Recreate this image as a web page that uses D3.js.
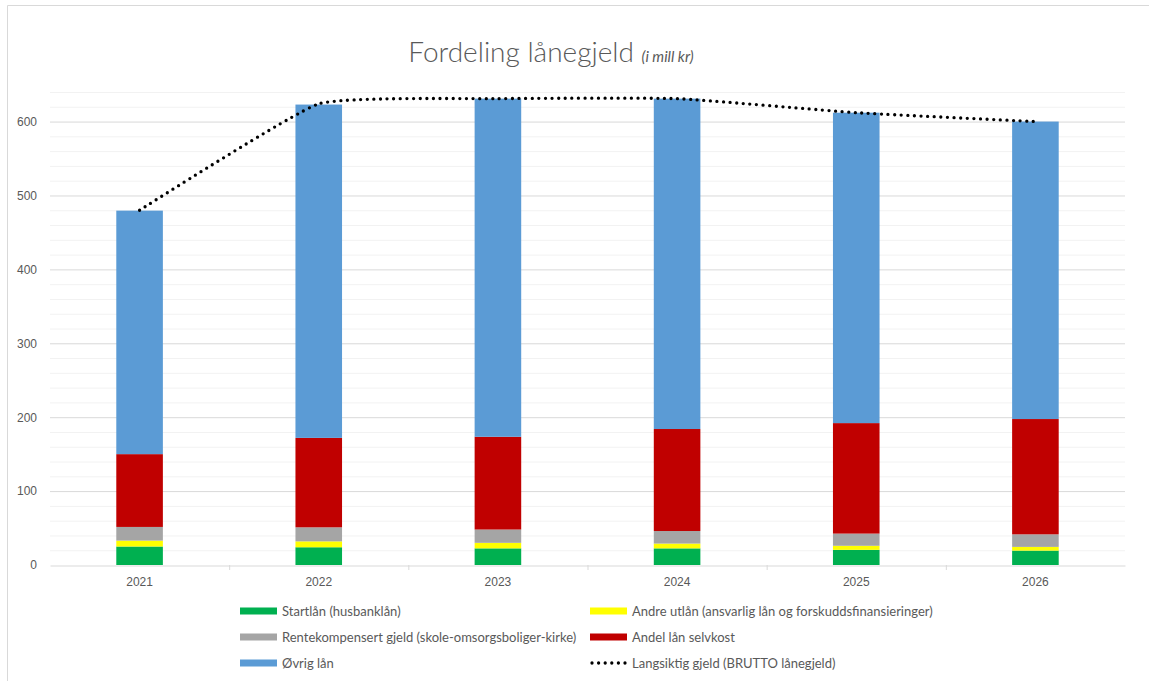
<html>
<head>
<script src="https://d3js.org/d3.v7.min.js"></script>
<style>
  body { margin: 0; background: #fff; }
  svg { font-family: Lato, "Open Sans", sans-serif; }
</style>
</head>
<body>
<svg id="chart" width="1149" height="681"></svg>
<script>
// data (mill kr)
const years = ["2021", "2022", "2023", "2024", "2025", "2026"];
const startlan = [25, 24, 22.5, 22.5, 20.5, 19.5];
const andreUtlan = [8, 8, 7.5, 6.5, 5.5, 5];
const rentekomp = [18.5, 19, 18, 17, 16.5, 17];
const selvkost = [98.5, 121, 125.5, 138, 149.5, 156];
const ovrig = [329.5, 451, 457.5, 447, 420, 402.5];
const brutto = [480, 624, 631, 631, 612, 600];
const yTicks = [0, 100, 200, 300, 400, 500, 600];

const seriesNames = ["Startlån (husbanklån)", "Andre utlån (ansvarlig lån og forskuddsfinansieringer)",
  "Rentekompensert gjeld (skole-omsorgsboliger-kirke)", "Andel lån selvkost", "Øvrig lån"];
const colors = ["#00b050", "#ffff00", "#a5a5a5", "#c00000", "#5b9bd5"];
const lineName = "Langsiktig gjeld (BRUTTO lånegjeld)";

const svg = d3.select("#chart");
const plotLeft = 50, plotRight = 1125, plotTop = 92, plotBottom = 565;

// chart border (only top and left show in the picture)
svg.append("path").attr("d", "M7.5,681V5.5H1149").attr("fill", "none").attr("stroke", "#d9d9d9");

const x = d3.scaleBand().domain(years).range([plotLeft, plotRight]).paddingInner(0.74).paddingOuter(0.37);
const y = d3.scaleLinear().domain([0, 640]).range([plotBottom, plotTop]);

// minor gridlines every 20, major every 100
svg.append("g").selectAll("line").data(d3.range(20, 641, 20).filter(v => v % 100 !== 0))
  .join("line").attr("x1", plotLeft).attr("x2", plotRight)
  .attr("y1", d => y(d) + 0.5).attr("y2", d => y(d) + 0.5)
  .attr("stroke", "#f2f2f2");
svg.append("g").selectAll("line").data(yTicks.slice(1))
  .join("line").attr("x1", plotLeft).attr("x2", plotRight)
  .attr("y1", d => y(d) + 0.5).attr("y2", d => y(d) + 0.5)
  .attr("stroke", "#d9d9d9");

// y axis labels
const yAxis = svg.append("g").attr("transform", `translate(${plotLeft},0)`)
  .call(d3.axisLeft(y).tickValues(yTicks).tickSize(0).tickPadding(13));
yAxis.select(".domain").remove();
yAxis.selectAll("text").attr("fill", "#595959").style("font-size", "12px");

// stacked bars
const rows = years.map((yr, i) => ({ year: yr, s0: startlan[i], s1: andreUtlan[i], s2: rentekomp[i], s3: selvkost[i], s4: ovrig[i] }));
const stack = d3.stack().keys(["s0", "s1", "s2", "s3", "s4"])(rows);
svg.append("g").selectAll("g").data(stack).join("g")
  .attr("fill", (d, i) => colors[i])
  .selectAll("rect").data(d => d).join("rect")
  .attr("x", d => x(d.data.year))
  .attr("width", x.bandwidth())
  .attr("y", d => y(d[1]))
  .attr("height", d => y(d[0]) - y(d[1]));

// x axis
const xAxis = svg.append("g").attr("transform", `translate(0,${plotBottom + 0.5})`)
  .call(d3.axisBottom(x).tickSize(0).tickPadding(12));
xAxis.select(".domain").attr("stroke", "#d9d9d9");
xAxis.selectAll("text").attr("fill", "#595959").style("font-size", "12px");
// category separators
svg.append("g").selectAll("line").data(d3.range(1, years.length))
  .join("line")
  .attr("x1", i => plotLeft + i * x.step() + 0.5).attr("x2", i => plotLeft + i * x.step() + 0.5)
  .attr("y1", plotBottom).attr("y2", plotBottom + 5)
  .attr("stroke", "#d9d9d9");

// brutto line (smoothed like Excel)
const line = d3.line()
  .x((d, i) => x(years[i]) + x.bandwidth() / 2)
  .y(d => y(d))
  .curve(d3.curveCardinal.tension(0.6));
svg.append("path").datum(brutto)
  .attr("d", line)
  .attr("fill", "none").attr("stroke", "#000")
  .attr("stroke-width", 3.3).attr("stroke-linecap", "round")
  .attr("stroke-dasharray", "0 6.6");

// title
const title = svg.append("text").attr("x", 551).attr("y", 62).attr("text-anchor", "middle")
  .attr("fill", "#595959");
title.append("tspan").style("font-size", "28px").style("font-weight", 300).text("Fordeling lånegjeld ");
title.append("tspan").style("font-size", "15px").style("font-style", "italic").text("(i mill kr)");

// legend
const legendItems = [
  { name: seriesNames[0], color: colors[0], col: 0, row: 0 },
  { name: seriesNames[1], color: colors[1], col: 1, row: 0 },
  { name: seriesNames[2], color: colors[2], col: 0, row: 1 },
  { name: seriesNames[3], color: colors[3], col: 1, row: 1 },
  { name: seriesNames[4], color: colors[4], col: 0, row: 2 },
  { name: lineName, color: null, col: 1, row: 2 }
];
const colX = [240, 590], rowY = [611, 637, 663];
const lg = svg.append("g").selectAll("g").data(legendItems).join("g")
  .attr("transform", d => `translate(${colX[d.col]},${rowY[d.row]})`);
lg.filter(d => d.color).append("rect")
  .attr("x", 0).attr("y", -3.5).attr("width", 37).attr("height", 7)
  .attr("fill", d => d.color);
lg.filter(d => !d.color).append("line")
  .attr("x1", 2).attr("x2", 37).attr("y1", 0).attr("y2", 0)
  .attr("stroke", "#000").attr("stroke-width", 3.3)
  .attr("stroke-linecap", "round").attr("stroke-dasharray", "0 6.6");
lg.append("text").attr("x", 42).attr("y", 4.5)
  .attr("fill", "#595959").style("font-size", "13px")
  .text(d => d.name);
</script>
</body>
</html>
